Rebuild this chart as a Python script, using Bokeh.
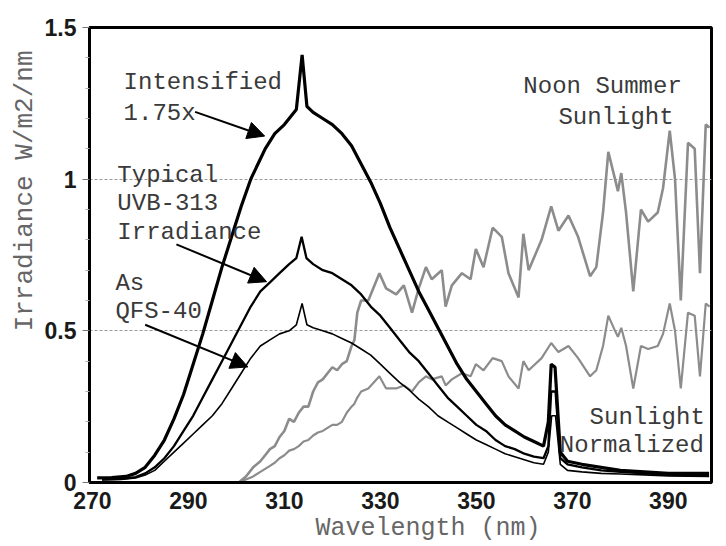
import math
from bokeh.plotting import figure
from bokeh.models import Label, Arrow, NormalHead, FixedTicker, Title
from bokeh.embed import file_html
from bokeh.resources import INLINE

# ---------------- data ----------------
x_ticks = [270, 290, 310, 330, 350, 370, 390]
y_ticks = [0, 0.5, 1, 1.5]
y_tick_labels = ["0", "0.5", "1", "1.5"]
y_minor = [0.1, 0.2, 0.3, 0.4, 0.6, 0.7, 0.8, 0.9, 1.1, 1.2, 1.3, 1.4]

wl_intensified = [271, 274, 277, 279, 281, 283, 285, 287, 289, 291, 293, 295, 297, 299, 301, 303,
                  304.5, 306, 308, 310, 312.5, 313.7, 314.7, 316, 318, 320, 322, 324, 326, 328,
                  330, 332, 334, 336, 338, 340, 342, 344, 346, 348, 350, 352, 354, 356, 358, 360,
                  362, 364, 365, 365.6, 366.4, 367.5, 369, 372, 376, 380, 385, 390, 398.5]
irr_intensified = [0.015, 0.016, 0.02, 0.03, 0.05, 0.09, 0.14, 0.21, 0.29, 0.39, 0.49, 0.60, 0.71,
                   0.81, 0.91, 1.00, 1.05, 1.10, 1.15, 1.18, 1.23, 1.41, 1.24, 1.22, 1.20, 1.18,
                   1.15, 1.11, 1.05, 0.99, 0.92, 0.84, 0.77, 0.70, 0.63, 0.57, 0.51, 0.45, 0.39,
                   0.34, 0.30, 0.26, 0.22, 0.19, 0.17, 0.15, 0.135, 0.12, 0.20, 0.39, 0.38, 0.10,
                   0.07, 0.06, 0.05, 0.04, 0.035, 0.03, 0.03]

wl_typical = [272, 276, 279, 281, 283, 285, 287, 289, 291, 293, 295, 297, 299, 301, 303, 305, 307,
              309, 311, 312.5, 313.6, 314.6, 316, 318, 320, 322, 324, 326, 328, 330, 332, 334, 336,
              338, 340, 342, 344, 346, 348, 350, 352, 354, 356, 358, 360, 362, 364, 365, 365.6,
              366.5, 367.5, 369, 372, 376, 380, 385, 390, 398.5]
irr_typical = [0.01, 0.012, 0.018, 0.03, 0.05, 0.08, 0.12, 0.17, 0.22, 0.28, 0.34, 0.40, 0.46, 0.52,
               0.58, 0.63, 0.66, 0.69, 0.72, 0.74, 0.81, 0.74, 0.72, 0.70, 0.69, 0.67, 0.65, 0.62,
               0.58, 0.55, 0.51, 0.47, 0.43, 0.40, 0.36, 0.32, 0.28, 0.25, 0.22, 0.19, 0.17, 0.14,
               0.12, 0.11, 0.095, 0.085, 0.08, 0.12, 0.30, 0.30, 0.08, 0.06, 0.05, 0.04, 0.035,
               0.03, 0.025, 0.022]

wl_qfs = [272, 276, 279, 281, 283, 285, 287, 289, 291, 293, 295, 297, 299, 301, 303, 305, 307, 309,
          311, 312.5, 313.7, 314.7, 316, 318, 320, 322, 324, 326, 328, 330, 332, 334, 336, 338, 340,
          342, 344, 346, 348, 350, 352, 354, 356, 358, 360, 362, 364, 365, 365.7, 366.5, 367.5,
          369, 372, 376, 380, 385, 390, 398.5]
irr_qfs = [0.008, 0.01, 0.015, 0.025, 0.04, 0.07, 0.10, 0.13, 0.16, 0.19, 0.22, 0.26, 0.31, 0.36,
           0.41, 0.45, 0.47, 0.49, 0.50, 0.52, 0.59, 0.52, 0.51, 0.50, 0.49, 0.475, 0.46, 0.44,
           0.42, 0.39, 0.36, 0.33, 0.305, 0.275, 0.25, 0.22, 0.20, 0.18, 0.16, 0.14, 0.125, 0.11,
           0.095, 0.085, 0.075, 0.065, 0.06, 0.10, 0.22, 0.22, 0.06, 0.04, 0.035, 0.03, 0.028,
           0.025, 0.022, 0.02]

wl_sun = [300.5, 302, 303.5, 305, 306, 307, 308, 309, 310, 311,
          312, 313, 314, 315, 316, 317, 318, 319, 320, 321, 322, 323,
          324, 324.6, 325.2, 326, 327.5,
          329.8, 331.2, 333.3, 334.9, 336.6,
          338, 339.5, 340.7, 342.8, 343.6,
          344.9, 347, 348.8, 349.9, 351.5,
          353.4, 355.3, 356.7, 358.8, 359.8,
          360.9, 363.6, 365.6, 367.1, 369.2,
          371.2, 373.7, 375, 376.4, 377.5,
          378.9, 379.5, 380.2, 381.2, 382.7,
          384.3, 385.8, 387.8, 388.9, 390.3,
          391.4, 392.6, 394.1, 395.5, 396.6,
          397.8, 398.6]
irr_sun = [0.0, 0.02, 0.05, 0.07, 0.09, 0.11, 0.12, 0.15, 0.17, 0.21,
           0.20, 0.23, 0.25, 0.25, 0.30, 0.33, 0.34, 0.36, 0.38, 0.37, 0.39, 0.40,
           0.45, 0.47, 0.56, 0.60, 0.60,
           0.69, 0.64, 0.62, 0.65, 0.56,
           0.64, 0.71, 0.67, 0.70, 0.58,
           0.65, 0.69, 0.67, 0.77, 0.71,
           0.84, 0.81, 0.69, 0.61, 0.82,
           0.70, 0.80, 0.91, 0.83, 0.88,
           0.81, 0.68, 0.71, 0.89, 1.09,
           1.00, 0.96, 1.02, 0.89, 0.63,
           0.90, 0.86, 0.89, 0.97, 1.16,
           1.00, 0.60, 1.12, 1.10, 0.69,
           1.18, 1.17]
irr_sun_norm = [0.0, 0.01, 0.02, 0.035, 0.045, 0.055, 0.065, 0.08, 0.09, 0.105,
                0.11, 0.12, 0.135, 0.14, 0.155, 0.165, 0.17, 0.18, 0.19, 0.19, 0.20, 0.23,
                0.25, 0.26, 0.28, 0.30, 0.31,
                0.35, 0.31, 0.31, 0.32, 0.30,
                0.33, 0.35, 0.34, 0.35, 0.32,
                0.34, 0.36, 0.35, 0.39, 0.37,
                0.41, 0.40, 0.35, 0.31, 0.40,
                0.37, 0.41, 0.46, 0.43, 0.45,
                0.41, 0.35, 0.37, 0.45, 0.55,
                0.50, 0.48, 0.51, 0.45, 0.31,
                0.45, 0.44, 0.45, 0.49, 0.59,
                0.50, 0.31, 0.56, 0.55, 0.35,
                0.59, 0.58]

# ---------------- figure ----------------
MONO = "Liberation Mono"
SANS = "Liberation Sans"

p = figure(frame_width=622, frame_height=455,
           x_range=(269.4, 399.0), y_range=(0, 1.5),
           output_backend="svg", toolbar_location=None,
           min_border_left=89, min_border_top=27, min_border_right=13, min_border_bottom=58,
           background_fill_color="white", border_fill_color="white")

p.outline_line_color = "black"
p.outline_line_width = 3

p.xgrid.visible = False
p.ygrid.ticker = FixedTicker(ticks=[0.5, 1.0])
p.ygrid.grid_line_color = "#9a9a9a"
p.ygrid.grid_line_dash = "3 2"
p.ygrid.grid_line_width = 1

# x axis
p.xaxis.ticker = FixedTicker(ticks=x_ticks)
p.xaxis.axis_line_width = 3
p.xaxis.axis_line_color = "black"
p.xaxis.major_tick_line_color = None
p.xaxis.minor_tick_line_color = None
p.xaxis.major_label_text_font = SANS
p.xaxis.major_label_text_font_style = "bold"
p.xaxis.major_label_text_font_size = "23px"
p.xaxis.major_label_text_color = "#1a1a1a"
p.xaxis.major_label_standoff = 3

# y axis
p.yaxis.ticker = FixedTicker(ticks=y_ticks, minor_ticks=y_minor)
p.yaxis.major_label_overrides = {t: s for t, s in zip(y_ticks, y_tick_labels)}
p.yaxis.axis_line_width = 3
p.yaxis.axis_line_color = "black"
p.yaxis.major_tick_out = 7
p.yaxis.major_tick_in = 0
p.yaxis.major_tick_line_color = "#777777"
p.yaxis.minor_tick_out = 4
p.yaxis.minor_tick_in = 0
p.yaxis.minor_tick_line_color = "#aaaaaa"
p.yaxis.major_label_text_font = SANS
p.yaxis.major_label_text_font_style = "bold"
p.yaxis.major_label_text_font_size = "23px"
p.yaxis.major_label_text_color = "#1a1a1a"
p.yaxis.major_label_standoff = 6

# axis titles (as side titles so they can be positioned off-centre like the original)
p.add_layout(Title(text="Wavelength (nm)", align="left", offset=226, standoff=0,
                   text_font=MONO, text_font_size="25px", text_font_style="normal",
                   text_color="#666666"), "below")
p.add_layout(Title(text="Irradiance W/m2/nm", align="right", offset=23, standoff=4,
                   text_font=MONO, text_font_size="26px", text_font_style="normal",
                   text_color="#666666"), "left")

# ---------------- curves ----------------
p.line(wl_sun, irr_sun, line_color="#8c8c8c", line_width=2.6)
p.line(wl_sun, irr_sun_norm, line_color="#8c8c8c", line_width=2.2)
p.line(wl_qfs, irr_qfs, line_color="black", line_width=1.6)
p.line(wl_typical, irr_typical, line_color="black", line_width=2.3)
p.line(wl_intensified, irr_intensified, line_color="black", line_width=3.2)

# ---------------- annotations ----------------
def add_text(txt, x, y, size="24px", color="#3a3a3a", align="left"):
    p.add_layout(Label(x=x, y=y, text=txt, text_font=MONO, text_font_size=size,
                       text_color=color, text_align=align, text_baseline="middle"))

add_text("Intensified", 276.5, 1.319)
add_text("1.75x", 276.5, 1.217)
add_text("Typical", 275.2, 1.012)
add_text("UVB-313", 275.2, 0.920)
add_text("Irradiance", 275.2, 0.824)
add_text("As", 274.8, 0.656)
add_text("QFS-40", 274.8, 0.564)
add_text("Noon Summer", 359.8, 1.306)
add_text("Sunlight", 367.1, 1.203)
add_text("Sunlight", 373.6, 0.214)
add_text("Normalized", 367.4, 0.122)

# arrows
def add_arrow(x0, y0, x1, y1):
    p.add_layout(Arrow(end=NormalHead(size=17, fill_color="black", line_color="black"),
                       x_start=x0, y_start=y0, x_end=x1, y_end=y1,
                       line_color="black", line_width=2))

add_arrow(291.4, 1.222, 305.9, 1.142)
add_arrow(287.5, 0.785, 306.3, 0.662)
add_arrow(281.0, 0.520, 302.4, 0.381)

open("out.html", "w").write(file_html(p, INLINE))
